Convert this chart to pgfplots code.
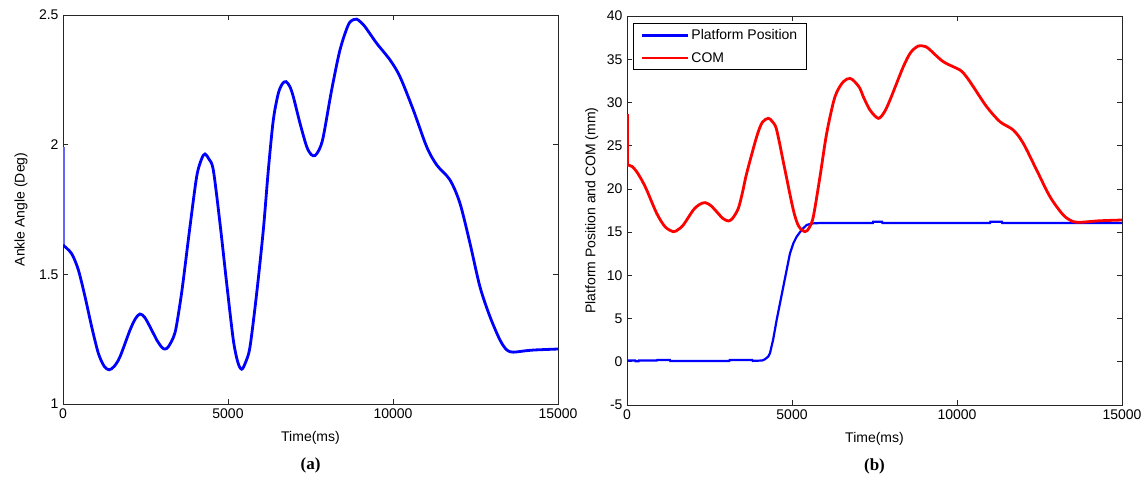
\documentclass[border=0pt]{standalone}
\usepackage{pgfplots}
\pgfplotsset{compat=1.18}
\usepackage{fontspec}
\setmainfont{Liberation Sans}
\newfontfamily\serifb{Liberation Serif}
\begin{document}
\begin{tikzpicture}
\pgfplotsset{
  every axis/.append style={
    scale only axis, width=495bp, height=389bp,
    xmin=0, xmax=15000,
    xtick={0,5000,10000,15000},
    scaled x ticks=false,
    tick align=inside,
    major tick length=5bp,
    axis line style={black!85, line width=0.7bp},
    every tick/.style={black!85, line width=0.7bp},
    tick label style={font=\fontsize{14bp}{16bp}\selectfont},
    label style={font=\fontsize{14bp}{16bp}\selectfont},
    /pgf/number format/assume math mode=true,
    /pgf/number format/1000 sep={},
    xlabel={Time(ms)},
    xlabel style={at={(axis description cs:0.5,-0.087)}, anchor=center},
    xticklabel style={yshift=-1bp},
    yticklabel style={xshift=-1bp},
  }
}
\path[use as bounding box] (0,0) rectangle (1144bp,481bp);
% ---------- (a)
\begin{axis}[
  name=pa,
  at={(63bp,77bp)}, anchor=south west,
  ymin=1, ymax=2.5, ytick={1,1.5,2,2.5},
  ylabel={Ankle Angle (Deg)},
  ylabel style={at={(axis description cs:-0.085,0.5)}, anchor=center},
]
\addplot[color={rgb,255:red,100;green,100;blue,255}, line width=1.5bp] coordinates {(25,1.99)(25,1.613)};
\addplot[color={rgb,255:red,0;green,0;blue,255}, line width=2.8bp, smooth] coordinates {
(0,1.613)(260,1.58)(465,1.517)(667,1.414)(869,1.298)(1070,1.196)(1250,1.145)(1400,1.132)(1550,1.145)
(1727,1.182)(2030,1.285)(2200,1.330)(2333,1.347)(2470,1.335)(2636,1.298)(2850,1.245)(3000,1.218)
(3091,1.212)(3200,1.222)(3394,1.275)(3550,1.390)(3646,1.478)(3848,1.684)(4051,1.877)(4200,1.945)
(4303,1.964)(4420,1.945)(4555,1.902)(4757,1.697)(4960,1.465)(5161,1.247)(5300,1.160)(5415,1.134)
(5530,1.160)(5666,1.220)(5869,1.427)(6070,1.671)(6222,1.902)(6373,2.095)(6525,2.198)(6650,2.235)
(6757,2.243)(6870,2.225)(6979,2.185)(7181,2.083)(7383,1.993)(7520,1.962)(7636,1.958)(7760,1.980)
(7888,2.031)(8141,2.211)(8393,2.365)(8645,2.462)(8800,2.482)(8898,2.484)(9000,2.475)(9151,2.455)
(9505,2.391)(9908,2.327)(10211,2.262)(10615,2.134)(11020,1.992)(11323,1.922)(11726,1.864)
(12029,1.774)(12332,1.620)(12635,1.452)(12938,1.337)(13241,1.247)(13450,1.208)(13645,1.200)
(14000,1.205)(14250,1.208)(14600,1.210)(15000,1.212)};
\end{axis}
\node[font=\serifb\bfseries\fontsize{17bp}{19bp}\selectfont] at ([yshift=-61bp]pa.south) {(a)};
% ---------- (b)
\begin{axis}[
  name=pb,
  at={(627bp,76bp)}, anchor=south west,
  ymin=-5, ymax=40, ytick={-5,0,5,10,15,20,25,30,35,40},
  ylabel={Platform Position and COM (mm)},
  ylabel style={at={(axis description cs:-0.071,0.5)}, anchor=center},
  legend style={at={(axis description cs:0.0127,0.981)}, anchor=north west,
    draw=black, line width=0.7bp, font=\fontsize{14bp}{16bp}\selectfont,
    inner xsep=7bp, inner ysep=4bp, row sep=7bp,
    nodes={inner sep=2bp}},
  legend cell align=left,
  legend image code/.code={\draw[#1] (0bp,0bp) -- (46bp,0bp);},
]
\addplot[color={rgb,255:red,0;green,0;blue,255}, line width=2.2bp] coordinates {
(0,0.15)(250,0.15)(260,0.05)(350,0.05)(360,0.15)(900,0.15)(910,0.2)(1300,0.2)(1310,0.1)(3100,0.1)
(3110,0.2)(3800,0.2)(3810,0.1)(4100,0.15)(4182,0.3)(4280,0.6)(4333,1.0)(4430,2.6)(4535,4.83)
(4737,8.69)(4939,12.55)(5040,13.7)(5141,14.47)(5300,15.3)(5444,15.82)(5600,16.0)(5848,16.05)
(7450,16.05)(7460,16.2)(7730,16.2)(7740,16.05)(11000,16.05)(11010,16.2)(11360,16.2)(11370,16.05)(15000,16.05)};
\addlegendentry{Platform Position}
\addplot[color={rgb,255:red,255;green,0;blue,0}, line width=2.8bp, smooth] coordinates {
(0,22.77)(150,22.6)(293,21.99)(450,21.0)(597,19.87)(900,17.17)(1151,15.63)(1403,15.05)(1550,15.3)
(1706,15.82)(2010,17.56)(2200,18.2)(2363,18.41)(2530,18.1)(2717,17.36)(2900,16.6)(3070,16.29)
(3200,16.6)(3373,17.74)(3500,19.6)(3626,21.79)(3929,26.03)(4100,27.7)(4282,28.16)(4400,27.8)
(4535,26.81)(4787,22.19)(5040,17.56)(5200,15.7)(5393,15.05)(5520,15.5)(5646,16.79)(5848,21.41)
(6051,26.43)(6302,30.66)(6555,32.40)(6757,32.78)(6900,32.4)(7060,31.62)(7161,30.66)(7363,29.12)
(7616,28.16)(7800,28.9)(7969,30.28)(8373,34.13)(8600,35.8)(8827,36.53)(9000,36.5)(9130,36.26)
(9585,34.71)(10090,33.75)(10300,32.9)(10494,31.82)(10898,29.51)(11302,27.77)(11705,26.81)
(12008,25.27)(12412,22.19)(12817,19.10)(13220,16.98)(13523,16.21)(13800,16.15)(14231,16.29)
(14600,16.35)(15000,16.40)};
\addlegendentry{COM}
\addplot[color={rgb,255:red,255;green,0;blue,0}, line width=1.5bp, forget plot] coordinates {(25,28.7)(25,22.77)};
\end{axis}
\node[font=\serifb\bfseries\fontsize{17bp}{19bp}\selectfont] at ([yshift=-61bp]pb.south) {(b)};
\end{tikzpicture}
\end{document}
